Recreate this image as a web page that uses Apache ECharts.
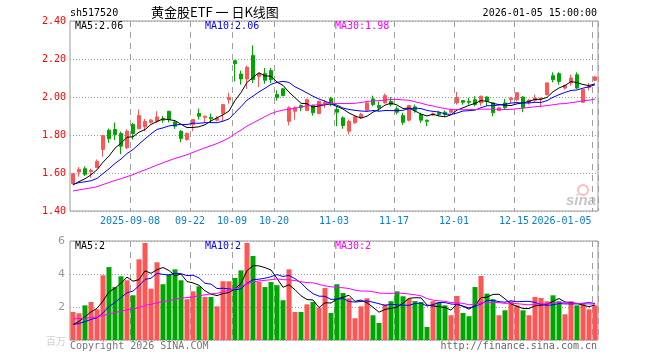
<!DOCTYPE html>
<html><head><meta charset="utf-8">
<script src="https://cdn.jsdelivr.net/npm/echarts@6/dist/echarts.min.js"></script>
<style>html,body{margin:0;padding:0;background:#fff}#c{width:660px;height:360px}</style>
</head><body><div id="c"></div><script>
const dates = [
'2025-08-25','2025-08-26','2025-08-27','2025-08-28','2025-08-29',
'2025-09-01','2025-09-02','2025-09-03','2025-09-04','2025-09-05',
'2025-09-08','2025-09-09','2025-09-10','2025-09-11','2025-09-12',
'2025-09-15','2025-09-16','2025-09-17','2025-09-18','2025-09-19',
'2025-09-22','2025-09-23','2025-09-24','2025-09-25','2025-09-26',
'2025-09-29','2025-09-30','2025-10-09','2025-10-10',
'2025-10-13','2025-10-14','2025-10-15','2025-10-16','2025-10-17',
'2025-10-20','2025-10-21','2025-10-22','2025-10-23','2025-10-24',
'2025-10-27','2025-10-28','2025-10-29','2025-10-30','2025-10-31',
'2025-11-03','2025-11-04','2025-11-05','2025-11-06','2025-11-07',
'2025-11-10','2025-11-11','2025-11-12','2025-11-13','2025-11-14',
'2025-11-17','2025-11-18','2025-11-19','2025-11-20','2025-11-21',
'2025-11-24','2025-11-25','2025-11-26','2025-11-27','2025-11-28',
'2025-12-01','2025-12-02','2025-12-03','2025-12-04','2025-12-05',
'2025-12-08','2025-12-09','2025-12-10','2025-12-11','2025-12-12',
'2025-12-15','2025-12-16','2025-12-17','2025-12-18','2025-12-19',
'2025-12-22','2025-12-23','2025-12-24','2025-12-25','2025-12-26',
'2025-12-29','2025-12-30','2025-12-31','2026-01-05'];

const opens = [1.545,1.605,1.623,1.607,1.628,1.724,1.825,1.829,1.808,1.733,
 1.855,1.833,1.843,1.867,1.872,1.885,1.925,1.869,1.820,1.776,
 1.855,1.913,1.893,1.892,1.878,1.913,1.986,2.191,2.121,2.095,
 2.219,2.109,2.123,2.139,2.013,2.043,1.872,1.925,1.955,1.929,
 1.956,1.913,1.960,1.992,1.934,1.890,1.820,1.864,1.890,1.930,
 1.990,1.955,1.969,1.977,1.938,1.902,1.878,1.948,1.908,1.878,
 1.905,1.917,1.920,1.920,1.969,1.981,1.977,1.986,1.969,2.000,
 1.969,1.929,1.969,1.986,1.986,2.000,1.969,1.983,1.990,2.013,
 2.112,2.123,2.047,2.074,2.117,1.972,2.050,2.088];
const closes = [1.596,1.619,1.593,1.614,1.661,1.797,1.780,1.803,1.741,1.820,
 1.808,1.902,1.871,1.878,1.895,1.878,1.881,1.846,1.782,1.808,
 1.881,1.899,1.899,1.885,1.888,1.960,1.998,2.175,2.095,2.156,
 2.091,2.123,2.088,2.091,1.998,2.007,1.943,1.943,1.943,1.986,
 1.917,1.977,1.972,1.965,1.920,1.850,1.872,1.895,1.908,1.969,
 1.960,1.943,2.007,1.960,1.920,1.867,1.955,1.930,1.878,1.872,
 1.912,1.908,1.908,1.930,1.998,1.972,1.972,1.960,2.004,1.977,
 1.917,1.943,1.943,1.995,2.022,1.943,1.983,1.995,1.995,2.074,
 2.091,2.082,2.060,2.100,2.047,2.039,2.055,2.105];
const lows = [1.540,1.581,1.584,1.575,1.626,1.686,1.759,1.773,1.699,1.725,
 1.776,1.830,1.820,1.860,1.864,1.864,1.866,1.832,1.762,1.770,
 1.820,1.881,1.864,1.867,1.872,1.872,1.965,2.082,2.065,2.043,
 2.074,2.053,2.070,2.074,1.981,2.004,1.851,1.881,1.925,1.925,
 1.902,1.909,1.943,1.951,1.846,1.833,1.803,1.859,1.885,1.925,
 1.951,1.925,1.965,1.951,1.908,1.853,1.872,1.917,1.864,1.846,
 1.900,1.899,1.899,1.913,1.960,1.960,1.960,1.951,1.955,1.955,
 1.899,1.925,1.934,1.969,1.977,1.920,1.960,1.969,1.948,2.007,
 2.077,2.065,2.039,2.060,2.043,1.969,2.035,2.082];
const highs = [1.600,1.631,1.635,1.623,1.671,1.800,1.834,1.866,1.818,1.830,
 1.864,1.934,1.885,1.885,1.925,1.900,1.927,1.875,1.825,1.813,
 1.883,1.939,1.902,1.913,1.899,1.962,2.022,2.195,2.139,2.165,
 2.271,2.127,2.153,2.153,2.035,2.048,1.951,1.951,1.960,1.992,
 1.960,1.981,1.986,2.001,1.951,1.899,1.881,1.902,1.917,1.972,
 2.007,1.977,2.018,2.000,1.951,1.917,1.959,1.960,1.917,1.881,
 1.918,1.925,1.930,1.938,2.027,1.983,1.995,2.004,2.007,2.004,
 1.972,1.946,1.990,2.000,2.025,2.004,1.990,2.013,1.995,2.077,
 2.130,2.130,2.065,2.117,2.130,2.043,2.074,2.112];
const volumes = [1.70,1.62,2.10,2.30,1.86,3.92,4.42,3.21,3.86,3.62,
 2.71,4.89,5.88,3.11,4.71,3.38,3.98,4.28,3.62,2.47,
 2.95,3.25,2.61,2.61,2.04,3.56,3.56,3.76,4.22,5.88,
 5.09,3.52,3.21,3.52,3.32,2.41,4.28,1.70,1.70,2.16,
 2.30,1.96,3.15,1.64,3.38,2.85,2.53,1.32,2.04,2.53,
 1.50,1.03,2.16,2.35,2.95,2.65,2.51,2.36,2.30,0.79,
 2.35,2.30,2.10,1.50,2.67,1.64,1.44,3.21,3.88,2.81,
 2.47,1.50,1.80,2.35,2.10,1.80,1.50,2.61,2.55,2.35,
 2.71,2.35,1.56,2.35,2.10,2.21,1.86,2.10];
// sessions before the visible window (only feed the moving averages)
const priorCloses = [1.45,1.44,1.46,1.47,1.45,1.46,1.48,1.47,1.49,
 1.49,1.50,1.52,1.51,1.50,1.52,1.53,1.51,1.50,1.51,
 1.50,1.53,1.55,1.56,1.54,1.54,1.53,1.52,1.51,1.53];
const priorVolumes = [1.1,1.3,1.0,1.2,1.1,1.3,1.0,1.2,1.15,
 1.6,1.9,1.7,1.5,1.8,1.6,1.7,1.9,1.6,1.5,1.9,
 0.9,1.0,0.95,0.9,0.9,0.6,0.75,0.8,0.8];
const tickDates = ['2025-09-08','2025-09-22','2025-10-09','2025-10-20','2025-11-03','2025-11-17','2025-12-01','2025-12-15','2026-01-05'];
const tickText = ['2025-09-08','09-22','10-09','10-20','11-03','11-17','12-01','12-15','2026-01-05'];
const maPeriods = [5, 10, 30];
const maColors = ['#000000', '#0000ff', '#ff00ff'];

const tickIdx = tickDates.map(d => dates.indexOf(d));
function movingAvg(n, prior, vals) {
  const all = prior.concat(vals), off = prior.length;
  return vals.map((_, i) => {
    const end = off + i;
    if (end - n + 1 < 0) return '-';
    let s = 0;
    for (let k = end - n + 1; k <= end; k++) s += all[k];
    return +(s / n).toFixed(4);
  });
}
const priceMA = maPeriods.map(n => movingAvg(n, priorCloses, closes));
const volMA = maPeriods.map(n => movingAvg(n, priorVolumes, volumes));
const last = a => a[a.length - 1];
const t2 = v => (Math.floor(v * 100 + 1e-7) / 100).toFixed(2);
const t0 = v => String(Math.floor(v + 1e-7));

const RED = '#ff5555', GREEN = '#00a600';
const mono = 'DejaVu Sans Mono';
const isTick = i => tickIdx.indexOf(i) >= 0;
const splitX = { show: true, interval: (i) => isTick(i), lineStyle: { color: '#a0a0a0', type: [6, 5], width: 1 } };

const chart = echarts.init(document.getElementById('c'));
const series = [{
  type: 'candlestick', xAxisIndex: 0, yAxisIndex: 0, barWidth: 4,
  data: dates.map((d, i) => [opens[i], closes[i], lows[i], highs[i]]),
  itemStyle: { color: RED, color0: GREEN, borderColor: RED, borderColor0: GREEN, borderWidth: 1 }
}];
maPeriods.forEach((n, k) => series.push({
  type: 'line', xAxisIndex: 0, yAxisIndex: 0, data: priceMA[k], symbol: 'none', z: 3,
  lineStyle: { color: maColors[k], width: 1 }, silent: true
}));
series.push({
  type: 'bar', xAxisIndex: 1, yAxisIndex: 1, barWidth: 5,
  data: volumes.map((v, i) => ({ value: v, itemStyle: { color: closes[i] >= opens[i] ? RED : GREEN } }))
});
maPeriods.forEach((n, k) => series.push({
  type: 'line', xAxisIndex: 1, yAxisIndex: 1, data: volMA[k], symbol: 'none', z: 3,
  lineStyle: { color: maColors[k], width: 1 }, silent: true
}));

const txt = (x, y, text, fill, extra) => ({ type: 'text', x, y, silent: true, z: 10,
  style: Object.assign({ text, fill, font: '10px "' + mono + '"', textVerticalAlign: 'middle', textAlign: 'left' }, extra || {}) });

const graphic = [
  txt(70, 13, 'sh517520', '#000'),
  txt(151, 12, '黄金股ETF 一 日K线图', '#000', { font: '13px "Noto Sans CJK SC"' }),
  txt(597, 13, '2026-01-05 15:00:00', '#000', { textAlign: 'right' }),
  txt(75, 26.5, 'MA5:' + t2(last(priceMA[0])), maColors[0]),
  txt(205, 26.5, 'MA10:' + t2(last(priceMA[1])), maColors[1]),
  txt(335, 26.5, 'MA30:' + t2(last(priceMA[2])), maColors[2]),
  txt(75, 246.5, 'MA5:' + t0(last(volMA[0])), maColors[0]),
  txt(205, 246.5, 'MA10:' + t0(last(volMA[1])), maColors[1]),
  txt(335, 246.5, 'MA30:' + t0(last(volMA[2])), maColors[2]),
  txt(70, 346, 'Copyright 2026 SINA.COM', '#777'),
  txt(597, 346, 'http://finance.sina.com.cn', '#666', { textAlign: 'right' }),
  txt(66, 341, '百万', '#d0d0d0', { textAlign: 'right', font: '10px "Noto Sans CJK SC"' }),
  { type: 'circle', silent: true, z: 1, shape: { cx: 583, cy: 190, r: 5 }, style: { fill: 'none', stroke: 'rgba(240,110,110,0.45)', lineWidth: 2 } },
  txt(581, 201, 'sina', 'rgba(160,160,160,0.6)', { textAlign: 'center', font: 'italic bold 15px "Liberation Sans"' })
];

chart.setOption({
  animation: false,
  backgroundColor: '#fff',
  grid: [
    { left: 70, top: 21, width: 528, height: 190, show: true, borderColor: '#999', borderWidth: 1, backgroundColor: 'transparent' },
    { left: 70, top: 241, width: 528, height: 99, show: true, borderColor: '#999', borderWidth: 1, backgroundColor: 'transparent' }
  ],
  xAxis: [
    { type: 'category', gridIndex: 0, data: dates, boundaryGap: true,
      axisLine: { show: false }, axisTick: { show: false }, splitLine: splitX,
      axisLabel: { interval: (i) => isTick(i), margin: 5,
        formatter: (v, i) => { const k = tickIdx.indexOf(i); if (k < 0) return ''; return (k === tickIdx.length - 1 ? '{b|' : '{a|') + tickText[k] + '}'; },
        rich: { a: { color: '#0b7dd3', fontFamily: mono, fontSize: 10, padding: [0, 6, 0, 0] },
                b: { color: '#0b7dd3', fontFamily: mono, fontSize: 10, padding: [0, 67, 0, 0] } } } },
    { type: 'category', gridIndex: 1, data: dates, boundaryGap: true,
      axisLine: { show: false }, axisTick: { show: false }, splitLine: splitX, axisLabel: { show: false } }
  ],
  yAxis: [
    { type: 'value', gridIndex: 0, min: 1.4, max: 2.4, interval: 0.2, scale: true,
      axisLine: { show: false }, axisTick: { show: false },
      splitLine: { lineStyle: { color: '#a0a0a0', type: [1, 2], width: 1 } },
      axisLabel: { color: '#ff0000', fontFamily: mono, fontSize: 10, margin: 4, formatter: v => v.toFixed(2) } },
    { type: 'value', gridIndex: 1, min: 0, max: 6, interval: 2,
      axisLine: { show: false }, axisTick: { show: false },
      splitLine: { lineStyle: { color: '#a0a0a0', type: [1, 2], width: 1 } },
      axisLabel: { color: '#999', fontFamily: 'DejaVu Sans', fontSize: 11, margin: 5, formatter: v => v === 0 ? '' : String(v) } }
  ],
  series,
  graphic
});
</script></body></html>
